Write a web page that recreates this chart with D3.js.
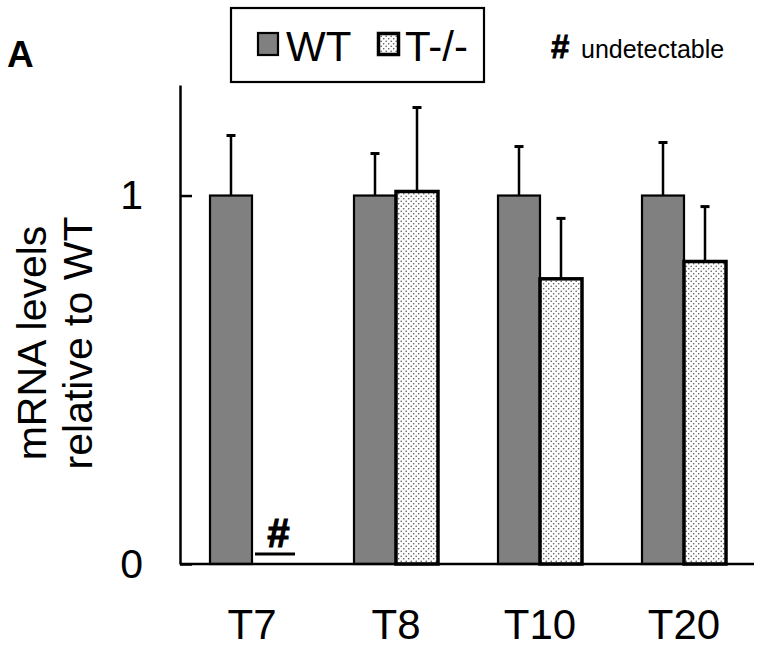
<!DOCTYPE html>
<html>
<head>
<meta charset="utf-8">
<script src="https://cdn.jsdelivr.net/npm/d3@7"></script>
<style>
  html, body { margin: 0; padding: 0; background: #fff; }
  svg { display: block; font-family: "Liberation Sans", Arial, sans-serif; }
</style>
</head>
<body>
<svg id="chart" width="762" height="647"></svg>
<script>
// ---- data ----
const categories = ["T7", "T8", "T10", "T20"];
const seriesNames = ["WT", "T-/-"];
const wtValues = [1.0, 1.0, 1.0, 1.0];
const wtErrors = [0.163, 0.114, 0.133, 0.144];
const koValues = [null, 1.011, 0.774, 0.821];   // null = undetectable
const koErrors = [null, 0.228, 0.164, 0.149];
const yTickValues = [0, 1];
const yTickLabels = ["0", "1"];
const yDomain = [0, 1.3];

// ---- setup ----
const svg = d3.select("#chart");
const font = '"Liberation Sans", Arial, sans-serif';

const x = d3.scaleBand().domain(categories).range([180, 756])
  .paddingInner(0.4167).paddingOuter(0.2083);
const xs = d3.scaleBand().domain(seriesNames).range([0, x.bandwidth()]);
const y = d3.scaleLinear().domain(yDomain).range([564, 85]);

// stipple pattern
const defs = svg.append("defs");
const pat = defs.append("pattern").attr("id", "dots")
  .attr("patternUnits", "userSpaceOnUse").attr("width", 5).attr("height", 5);
pat.append("rect").attr("width", 5).attr("height", 5).attr("fill", "#fff");
pat.append("circle").attr("cx", 1.2).attr("cy", 1.2).attr("r", 0.8).attr("fill", "#555");
pat.append("circle").attr("cx", 3.7).attr("cy", 3.7).attr("r", 0.8).attr("fill", "#555");

// ---- bars ----
const rows = categories.map((c, i) => ({
  cat: c, wt: wtValues[i], wtErr: wtErrors[i], ko: koValues[i], koErr: koErrors[i]
}));

const g = svg.append("g");

// WT bars
g.selectAll("rect.wt").data(rows).join("rect")
  .attr("class", "wt")
  .attr("x", d => x(d.cat) + xs("WT"))
  .attr("y", d => y(d.wt))
  .attr("width", xs.bandwidth())
  .attr("height", d => y(0) - y(d.wt))
  .attr("fill", "#808080").attr("stroke", "#000").attr("stroke-width", 2.2);

// KO bars
const koRows = rows.filter(d => d.ko !== null);
g.selectAll("rect.ko").data(koRows).join("rect")
  .attr("class", "ko")
  .attr("x", d => x(d.cat) + xs("T-/-"))
  .attr("y", d => y(d.ko))
  .attr("width", xs.bandwidth())
  .attr("height", d => y(0) - y(d.ko))
  .attr("fill", "url(#dots)").attr("stroke", "#000").attr("stroke-width", 3.5);

// error bars
function errBars(data, key, errKey, series) {
  const cx = d => x(d.cat) + xs(series) + xs.bandwidth() / 2;
  g.selectAll("line.ev-" + key).data(data).join("line")
    .attr("x1", cx).attr("x2", cx)
    .attr("y1", d => y(d[key])).attr("y2", d => y(d[key] + d[errKey]))
    .attr("stroke", "#000").attr("stroke-width", 2.5);
  g.selectAll("line.ec-" + key).data(data).join("line")
    .attr("x1", d => cx(d) - 4.5).attr("x2", d => cx(d) + 4.5)
    .attr("y1", d => y(d[key] + d[errKey])).attr("y2", d => y(d[key] + d[errKey]))
    .attr("stroke", "#000").attr("stroke-width", 3);
}
errBars(rows, "wt", "wtErr", "WT");
errBars(koRows, "ko", "koErr", "T-/-");

// undetectable marks
const undet = rows.filter(d => d.ko === null);
undet.forEach(d => {
  const cx = x(d.cat) + xs("T-/-") + xs.bandwidth() / 2;
  g.append("text").attr("x", cx + 5).attr("y", y(0) - 17)
    .attr("text-anchor", "middle").attr("font-size", 40).attr("font-weight", "bold")
    .attr("font-style", "italic").attr("font-family", font)
    .attr("stroke", "#000").attr("stroke-width", 1.2).text("#");
  g.append("line").attr("x1", cx - 18).attr("x2", cx + 22)
    .attr("y1", y(0) - 10).attr("y2", y(0) - 10)
    .attr("stroke", "#000").attr("stroke-width", 3);
});

// ---- axes ----
const yAxis = d3.axisLeft(y).tickValues(yTickValues)
  .tickFormat((v, i) => yTickLabels[i])
  .tickSizeInner(-12).tickSizeOuter(0).tickPadding(37);
const ya = svg.append("g").attr("transform", "translate(180,0)").call(yAxis);
ya.select(".domain").attr("stroke", "#000").attr("stroke-width", 2.5);
ya.selectAll(".tick line").attr("stroke", "#000").attr("stroke-width", 2.5);
ya.selectAll(".tick text").attr("font-size", 41).attr("font-family", font).attr("fill", "#000");

const xAxis = d3.axisBottom(x).tickSize(0).tickPadding(45);
const xa = svg.append("g").attr("transform", "translate(0,564)").call(xAxis);
xa.select(".domain").attr("stroke", "#000").attr("stroke-width", 2.5).attr("d", "M180,0H754");
xa.selectAll(".tick text").attr("font-size", 42).attr("font-family", font).attr("fill", "#000");

// y axis title
const yt = svg.append("text").attr("transform", "translate(0,343) rotate(-90)")
  .attr("text-anchor", "middle").attr("font-size", 41).attr("font-family", font);
yt.append("tspan").attr("x", 0).attr("y", 46).text("mRNA levels");
yt.append("tspan").attr("x", 0).attr("y", 92).text("relative to WT");

// panel label
svg.append("text").attr("x", 7).attr("y", 67).attr("font-size", 37)
  .attr("font-weight", "bold").attr("font-family", font).text("A");

// ---- legend ----
const lg = svg.append("g");
lg.append("rect").attr("x", 231).attr("y", 8).attr("width", 253).attr("height", 74)
  .attr("fill", "#fff").attr("stroke", "#000").attr("stroke-width", 2.2);
lg.append("rect").attr("x", 258).attr("y", 33).attr("width", 20).attr("height", 22)
  .attr("fill", "#808080").attr("stroke", "#000").attr("stroke-width", 2.2);
lg.append("text").attr("x", 286).attr("y", 61).attr("font-size", 42).attr("font-family", font).text(seriesNames[0]);
lg.append("rect").attr("x", 378.5).attr("y", 33.5).attr("width", 20).attr("height", 21)
  .attr("fill", "url(#dots)").attr("stroke", "#000").attr("stroke-width", 3.5);
lg.append("text").attr("x", 405).attr("y", 61).attr("font-size", 42).attr("font-family", font).text(seriesNames[1]);

// undetectable note
svg.append("text").attr("x", 551).attr("y", 58).attr("font-size", 33)
  .attr("font-weight", "bold").attr("font-family", font)
  .attr("stroke", "#000").attr("stroke-width", 0.8).text("#");
svg.append("text").attr("x", 581).attr("y", 58).attr("font-size", 25)
  .attr("font-family", font).text("undetectable");
</script>
</body>
</html>
